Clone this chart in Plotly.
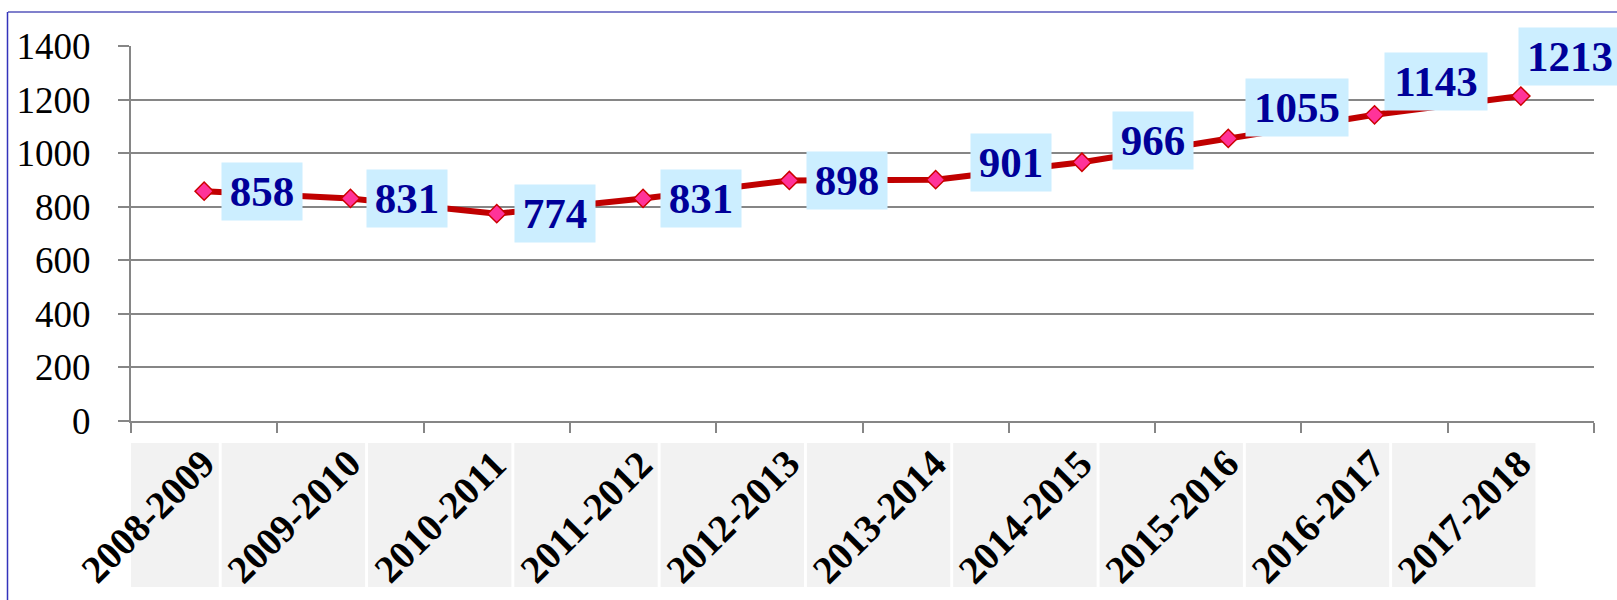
import plotly.graph_objects as go

# ---- data ----
categories = ["2008-2009", "2009-2010", "2010-2011", "2011-2012", "2012-2013",
              "2013-2014", "2014-2015", "2015-2016", "2016-2017", "2017-2018"]
values = [858, 831, 774, 831, 898, 901, 966, 1055, 1143, 1213]
y_ticks = [0, 200, 400, 600, 800, 1000, 1200, 1400]

# label offsets in pixels (dx right, dy up)
label_dx = [58, 57, 58, 58, 58, 75, 71, 69, 61, 49]
label_dy = [0, 0, 0, 0, 0, 17, 22, 31, 33, 40]

W, H = 1617, 600
ML, MR, MT, MB = 131, 23, 46, 179
plot_h = H - MT - MB

SERIF = "Liberation Serif, Times New Roman, serif"
GRAY = "#868686"

fig = go.Figure()
fig.add_trace(go.Scatter(
    x=categories, y=values, mode="lines+markers",
    line=dict(color="#c00000", width=6),
    marker=dict(symbol="diamond", size=14, color="#ff3399",
                line=dict(color="#cc0000", width=1.5)),
    hoverinfo="x+y", showlegend=False, cliponaxis=False,
))

def py(px):
    """pixel y (from top) -> paper y"""
    return (H - MB - px) / plot_h

shapes = []
annotations = []
for i, (cat, v) in enumerate(zip(categories, values)):
    # grey box behind category label
    shapes.append(dict(type="rect", xref="x", yref="paper",
                       x0=i - 0.88, x1=i + 0.10, y0=py(443), y1=py(587),
                       fillcolor="#f2f2f2", line=dict(width=0), layer="below"))
    annotations.append(dict(x=i - 0.39, y=py(516), xref="x", yref="paper",
                            text="<b>%s</b>" % cat, textangle=-45, showarrow=False,
                            font=dict(family=SERIF, size=39, color="black"),
                            xanchor="center", yanchor="middle"))
    # data label
    txt = str(v)
    annotations.append(dict(x=i, y=v, xref="x", yref="y", text="<b>%s</b>" % txt,
                            showarrow=False, xshift=label_dx[i], yshift=label_dy[i],
                            xanchor="center", yanchor="middle",
                            width=22 * len(txt) + 14, height=57, borderpad=0,
                            bgcolor="#cceeff",
                            font=dict(family=SERIF, size=43, color="#000099")))

# outer frame
shapes.append(dict(type="line", xref="paper", yref="paper",
                   x0=(8 - ML) / (W - ML - MR), x1=1.2, y0=py(12), y1=py(12),
                   line=dict(color="#8080cc", width=2)))
shapes.append(dict(type="line", xref="paper", yref="paper",
                   x0=(7.5 - ML) / (W - ML - MR), x1=(7.5 - ML) / (W - ML - MR),
                   y0=py(12), y1=-1, line=dict(color="#3333bb", width=1.5)))

fig.update_layout(
    width=W, height=H,
    margin=dict(l=ML, r=MR, t=MT, b=MB),
    paper_bgcolor="white", plot_bgcolor="white",
    shapes=shapes, annotations=annotations,
    xaxis=dict(type="category", range=[-0.5, len(categories) - 0.5],
               showticklabels=False, tickson="boundaries", ticks="outside",
               ticklen=10, tickwidth=2, tickcolor=GRAY,
               showline=True, linecolor=GRAY, linewidth=2,
               showgrid=False, zeroline=False),
    yaxis=dict(range=[0, 1400], tickvals=y_ticks, ticks="outside",
               ticklen=11, tickwidth=2, tickcolor=GRAY,
               showline=True, linecolor=GRAY, linewidth=2,
               showgrid=True, gridcolor=GRAY, gridwidth=1.5,
               zeroline=False, ticklabelstandoff=20,
               tickfont=dict(family=SERIF, size=37, color="black")),
)

fig.write_html("out.html", config={"displayModeBar": False},
               post_script="document.body.style.margin='0';document.body.style.overflow='hidden';")
